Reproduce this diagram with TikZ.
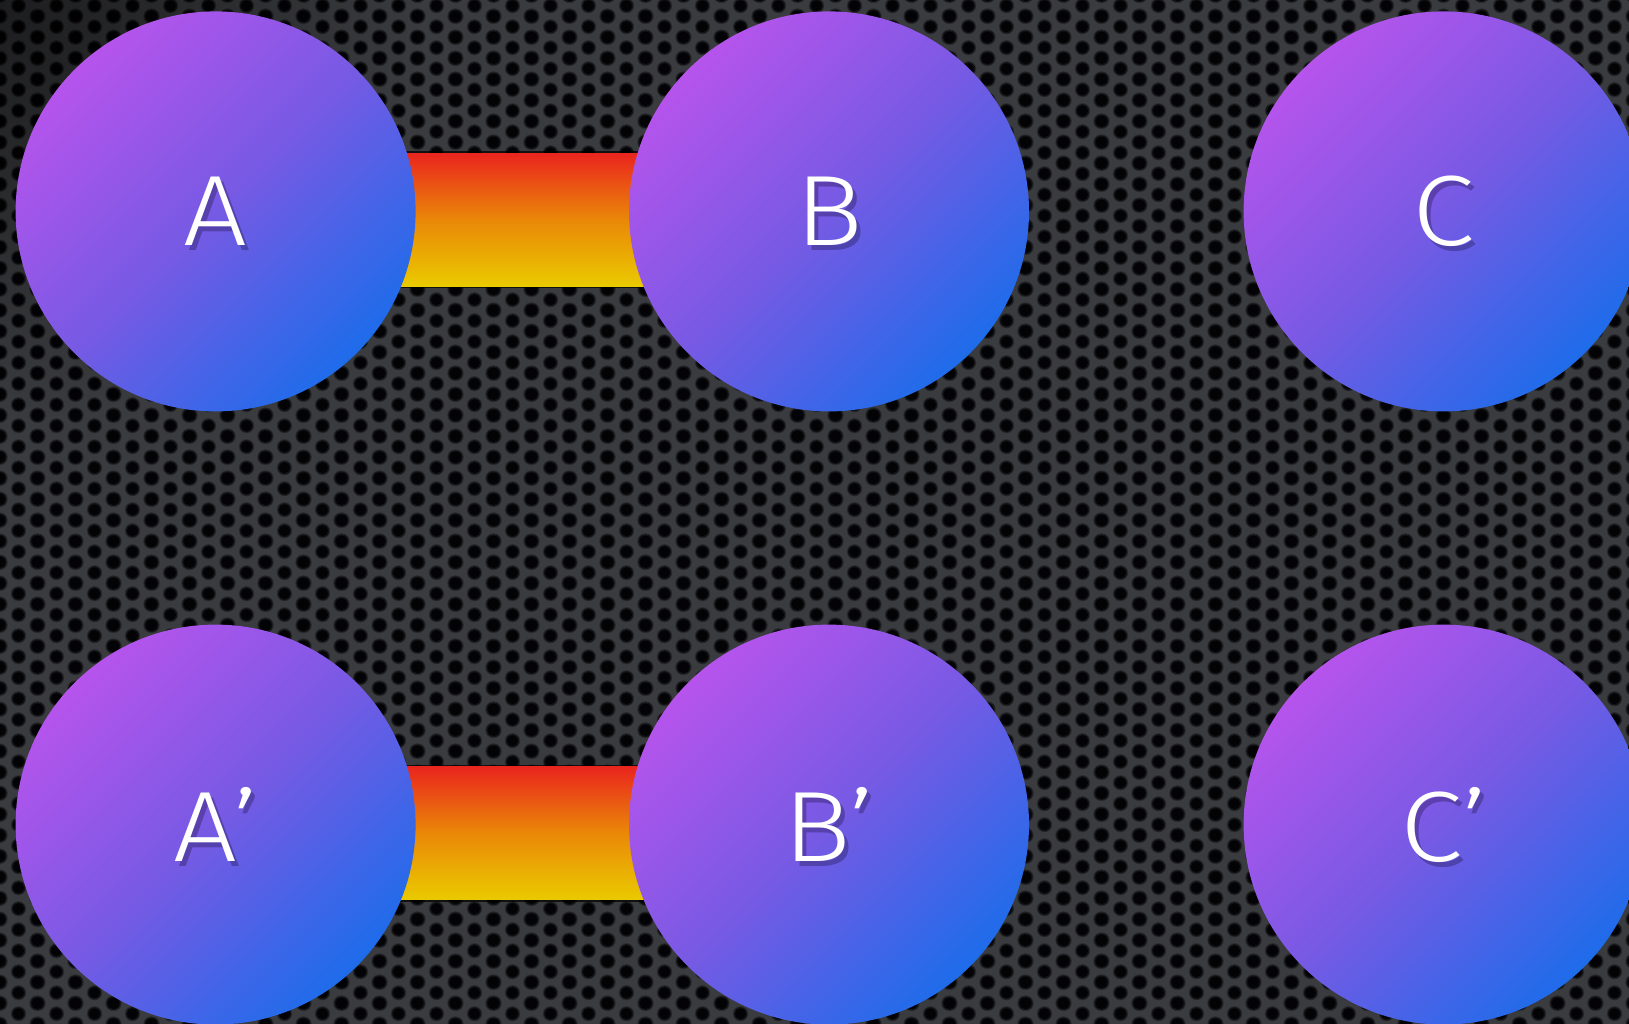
\documentclass[tikz,border=0pt]{standalone}
\usepackage{fontspec}
\setmainfont{Fira Sans}[UprightFont=* Light]
\usetikzlibrary{calc,patterns,fadings}
\definecolor{bgg}{RGB}{58,59,62}
\definecolor{rimc}{RGB}{40,41,44}
\definecolor{holemid}{RGB}{18,18,20}
\definecolor{holec}{RGB}{3,3,5}
\definecolor{cpurple}{RGB}{182,84,236}
\definecolor{cmid}{RGB}{118,90,228}
\definecolor{cblue}{RGB}{30,108,234}
\definecolor{bred}{RGB}{234,36,30}
\definecolor{borange}{RGB}{234,136,8}
\definecolor{byellow}{RGB}{234,202,0}
\definecolor{shadowc}{RGB}{30,20,70}
\newcommand\perfholes[2]{%
  \foreach \cx/\cy in {0/0, 37.5/0, 0/21.25, 37.5/21.25, 18.75/10.625} {%
    \pgfsetfillcolor{#1}%
    \pgfpathcircle{\pgfpoint{\cx pt}{\cy pt}}{#2}%
    \pgfusepath{fill}%
  }%
}
\pgfdeclarepatterninherentlycolored{perf}{\pgfpointorigin}{\pgfpoint{37.5pt}{21.25pt}}{\pgfpoint{37.5pt}{21.25pt}}{%
  \pgfsetfillcolor{bgg}%
  \pgfpathrectangle{\pgfpointorigin}{\pgfpoint{37.5pt}{21.25pt}}%
  \pgfusepath{fill}%
  \perfholes{rimc}{7.8pt}%
  \perfholes{holemid}{6.8pt}%
  \perfholes{holec}{5.6pt}%
}
\tikzfading[name=cornerfade, inner color=transparent!0, outer color=transparent!100]
\newcommand\widetext[1]{\scalebox{1.13}[1]{#1}}
\begin{document}
\begin{tikzpicture}[x=1pt,y=-1pt,
  ball/.style={circle, minimum size=400pt, inner sep=0pt, shading=axis,
    top color=cpurple, bottom color=cblue, middle color=cmid, shading angle=45},
  lbl/.style={text=white, inner sep=0pt, font=\fontsize{100}{100}\selectfont},
  lblshadow/.style={text=shadowc, inner sep=0pt, opacity=0.35, font=\fontsize{100}{100}\selectfont},
  bar/.style={top color=bred, bottom color=byellow, middle color=borange}]
\clip (0,0) rectangle (1629,1023);
\useasboundingbox (0,0) rectangle (1629,1023);
\fill[bgg] (0,0) rectangle (1629,1023);
\fill[pattern=perf] (0,0) rectangle (1629,1023);
\fill[black, opacity=0.5, path fading=cornerfade] (0,0) circle (420);
% node positions
\coordinate (pA) at (215.6,211.4);
\coordinate (pB) at (829,211.4);
\coordinate (pC) at (1443.6,211.4);
\coordinate (pA2) at (215.6,824.6);
\coordinate (pB2) at (829,824.6);
\coordinate (pC2) at (1443.6,824.6);
% bars (behind the circles)
\foreach \p/\q in {pA/pB, pA2/pB2} {
  \fill[black, opacity=0.7] ([xshift=184pt,yshift=60pt]\p) rectangle ([xshift=-184pt,yshift=-77pt]\q);
  \fill[bar] ([xshift=184pt,yshift=58.4pt]\p) rectangle ([xshift=-184pt,yshift=-75pt]\q);
}
% circles
\node[ball] (A) at (pA) {};
\node[ball] (B) at (pB) {};
\node[ball] (C) at (pC) {};
\node[ball] (A2) at (pA2) {};
\node[ball] (B2) at (pB2) {};
\node[ball] (C2) at (pC2) {};
% labels
\foreach \n/\t in {A/A, B/B, C/C, A2/A’, B2/B’, C2/C’} {
  \node[lblshadow] at ([xshift=4pt,yshift=-5pt]\n.center) {\widetext{\t}};
  \node[lbl] (t\n) at (\n.center) {\widetext{\t}};
}
\end{tikzpicture}
\end{document}
